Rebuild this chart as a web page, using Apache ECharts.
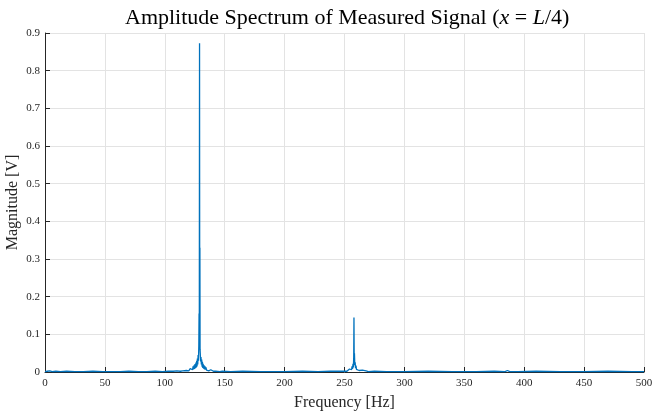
<!DOCTYPE html>
<html>
<head>
<meta charset="utf-8">
<script src="https://cdn.jsdelivr.net/npm/echarts@6/dist/echarts.min.js"></script>
<style>
  html, body { margin: 0; padding: 0; background: #fff; }
  #chart { width: 652px; height: 412px; }
</style>
</head>
<body>
<div id="chart"></div>
<script>
// spectrum (Hz, V), one group per line so the two stay aligned
var freqHz = [
  0, 1, 2, 4, 6, 9, 13, 18, 25, 32, 40, 48, 55, 63, 70, 78, 85, 92, 98, 103, 107, 110, 113, 115,
  118, 118.4, 118.8, 119.2, 119.6, 120, 120.4, 120.8, 121.2, 121.6, 122, 122.4, 122.8, 123.2, 123.6, 124,
  124.4, 124.8, 125.2, 125.6, 126, 126.3, 126.6, 126.9, 127.2, 127.5, 127.8, 128.1, 128.4, 128.6, 128.8,
  129.0, 129.15, 129.3, 129.45, 129.6, 129.9, 130.2, 130.5, 130.8, 131.1, 131.4, 131.7, 132, 132.4, 132.8,
  133.2, 133.6, 134, 134.4, 134.8, 135.2, 135.7, 136.2, 136.7, 137.2, 137.8, 138.4, 139, 139.8, 140.6,
  141.5, 142.5, 144, 146, 148, 155, 165, 180, 200, 215, 228, 238, 245,
  250, 251, 252, 252.8, 253.5, 254.2, 254.8, 255.4, 255.9, 256.3, 256.7, 257.1, 257.4, 257.7, 257.9,
  258.1, 258.3, 258.6, 258.9, 259.2, 259.6, 260, 260.5, 261, 261.6, 262.2, 263, 263.8, 265, 266.5, 268, 270,
  275, 285, 300, 320, 340, 360, 375, 384, 386, 387, 388, 395, 410, 430, 450, 470, 490, 500
];
var magV = [
  0.001, 0.003, 0.002, 0.003, 0.001, 0.002, 0.001, 0.002, 0.001, 0.001, 0.002, 0.001, 0.001, 0.001, 0.002, 0.001, 0.001, 0.002, 0.001, 0.002, 0.002, 0.003, 0.002, 0.003,
  0.004, 0.002, 0.006, 0.003, 0.007, 0.003, 0.008, 0.004, 0.009, 0.004, 0.011, 0.005, 0.013, 0.006, 0.015, 0.007,
  0.018, 0.008, 0.021, 0.010, 0.025, 0.012, 0.030, 0.015, 0.036, 0.020, 0.045, 0.030, 0.070, 0.155, 0.060,
  0.873, 0.100, 0.330, 0.060, 0.050, 0.028, 0.040, 0.020, 0.033, 0.014, 0.027, 0.011, 0.022, 0.009, 0.018,
  0.007, 0.015, 0.006, 0.012, 0.005, 0.010, 0.004, 0.008, 0.003, 0.007, 0.003, 0.006, 0.002, 0.005, 0.002,
  0.004, 0.002, 0.003, 0.001, 0.002, 0.001, 0.002, 0.001, 0.001, 0.002, 0.001, 0.002, 0.002,
  0.002, 0.004, 0.002, 0.006, 0.003, 0.008, 0.004, 0.011, 0.006, 0.015, 0.008, 0.022, 0.012, 0.040, 0.145,
  0.030, 0.050, 0.018, 0.026, 0.010, 0.017, 0.007, 0.012, 0.005, 0.009, 0.004, 0.007, 0.003, 0.005, 0.002, 0.003, 0.001,
  0.002, 0.001, 0.001, 0.002, 0.001, 0.001, 0.002, 0.001, 0.004, 0.002, 0.001, 0.001, 0.002, 0.001, 0.001, 0.002, 0.001, 0.001
];
var xTicks = [0, 50, 100, 150, 200, 250, 300, 350, 400, 450, 500];
var yTicks = [0, 0.1, 0.2, 0.3, 0.4, 0.5, 0.6, 0.7, 0.8, 0.9];

var chart = echarts.init(document.getElementById('chart'));
var serif = 'Liberation Serif';
var points = freqHz.map(function (f, i) { return [f, magV[i]]; });

chart.setOption({
  backgroundColor: '#fff',
  animation: false,
  title: {
    text: 'Amplitude Spectrum of Measured Signal ({i|x} = {i|L}/4)',
    left: 120,
    top: 2,
    textStyle: {
      fontFamily: serif, fontWeight: 'normal', fontSize: 22, color: '#000',
      rich: { i: { fontFamily: serif, fontStyle: 'italic', fontSize: 22, color: '#000' } }
    }
  },
  grid: { left: 45, right: 8, top: 33, bottom: 40, outerBoundsMode: 'none' },
  xAxis: {
    type: 'value',
    min: 0, max: 500, interval: 50,
    name: 'Frequency [Hz]',
    nameLocation: 'middle',
    nameGap: 23,
    nameMoveOverlap: false,
    nameTextStyle: { fontFamily: serif, fontSize: 16, color: '#262626' },
    axisLine: { lineStyle: { color: '#262626', width: 1 } },
    axisTick: { inside: true, length: 5, lineStyle: { color: '#262626' } },
    axisLabel: { fontFamily: serif, fontSize: 11, color: '#262626', margin: 6,
      formatter: function (v) { return xTicks.indexOf(v) >= 0 ? String(v) : ''; } },
    splitLine: { show: true, lineStyle: { color: '#e3e3e3', width: 1 } }
  },
  yAxis: {
    type: 'value',
    min: 0, max: 0.9, interval: 0.1,
    name: 'Magnitude [V]',
    nameLocation: 'middle',
    nameGap: 24,
    nameMoveOverlap: false,
    nameTextStyle: { fontFamily: serif, fontSize: 16, color: '#262626' },
    axisLine: { show: true, lineStyle: { color: '#262626', width: 1 } },
    axisTick: { show: true, inside: true, length: 5, lineStyle: { color: '#262626' } },
    axisLabel: { fontFamily: serif, fontSize: 11, color: '#262626', margin: 5,
      formatter: function (v) {
        var r = Math.round(v * 10) / 10;
        return yTicks.indexOf(r) >= 0 ? String(r) : '';
      } },
    splitLine: { show: true, lineStyle: { color: '#e3e3e3', width: 1 } }
  },
  series: [{
    type: 'line',
    data: points,
    showSymbol: false,
    symbol: 'none',
    sampling: null,
    clip: true,
    lineStyle: { color: '#0072BD', width: 1.3 },
    itemStyle: { color: '#0072BD' }
  }]
});
</script>
</body>
</html>
